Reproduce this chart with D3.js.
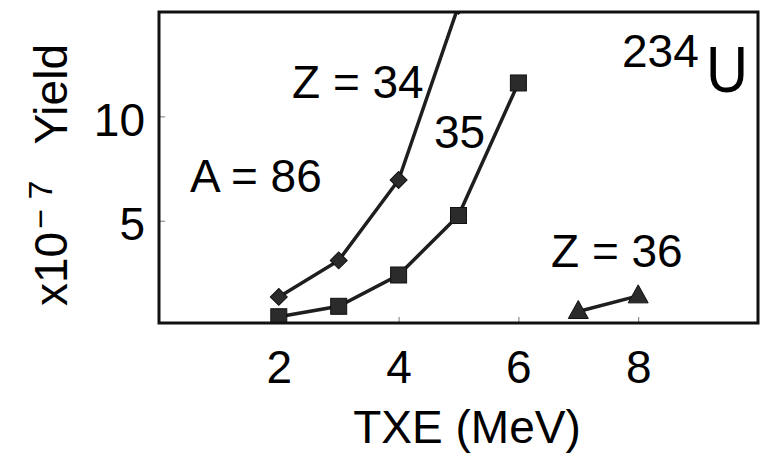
<!DOCTYPE html>
<meta charset="utf-8">
<style>
body { margin: 0; background: #fff; }
svg { display: block; }
text { font-family: "Liberation Sans", Arial, sans-serif; fill: #000; }
.line { fill: none; stroke: #1e1e1e; stroke-width: 3.5px; }
.mark { fill: #2b2b2b; stroke: #111; stroke-width: 1px; }
.axis line { stroke: #777; stroke-width: 1px; }
.axis text { font-size: 46px; }
.frame { fill: none; stroke: #111; stroke-width: 3px; }
</style>
<svg width="772" height="456"></svg>
<script src="https://cdn.jsdelivr.net/npm/d3@7"></script>
<script>
// yield x10^-7 vs TXE (MeV), A = 86, 234U
var z34 = [[2, 1.35], [3, 3.1], [4, 6.95], [5, 15.3]];
var z35 = [[2, 0.4], [3, 0.9], [4, 2.4], [5, 5.25], [6, 11.6]];
var z36 = [[7, 0.65], [8, 1.4]];
var xTicks = [2, 4, 6, 8];
var yTicks = [5, 10];

var svg = d3.select("svg");
var plotL = 159, plotR = 758, plotT = 12, plotB = 323;

var x = d3.scaleLinear().domain([0, 10]).range([plotL, plotR]);
var y = d3.scaleLinear().domain([0.1, 15]).range([plotB, plotT]);

svg.append("clipPath").attr("id", "clip")
  .append("rect")
    .attr("x", plotL).attr("y", plotT)
    .attr("width", plotR - plotL).attr("height", plotB - plotT);

var gx = svg.append("g")
    .attr("class", "axis")
    .attr("transform", "translate(0," + plotB + ")")
    .call(d3.axisBottom(x).tickValues(xTicks).tickSize(-6).tickPadding(27));
gx.select(".domain").remove();

var gy = svg.append("g")
    .attr("class", "axis")
    .attr("transform", "translate(" + plotL + ",0)")
    .call(d3.axisLeft(y).tickValues(yTicks).tickSize(-6).tickPadding(14));
gy.select(".domain").remove();
gy.selectAll("text").attr("dy", "0.41em");
svg.selectAll(".axis").attr("font-family", null).attr("font-size", null);

var line = d3.line()
    .x(function(d) { return x(d[0]); })
    .y(function(d) { return y(d[1]); });

var plot = svg.append("g").attr("clip-path", "url(#clip)");

[z34, z35, z36].forEach(function(s) {
  plot.append("path").attr("class", "line").attr("d", line(s));
});

// markers
plot.selectAll(".dia")
  .data(z34)
  .enter().append("rect")
    .attr("class", "mark")
    .attr("x", -6).attr("y", -6)
    .attr("width", 12).attr("height", 12)
    .attr("transform", function(d) { return "translate(" + x(d[0]) + "," + y(d[1]) + ") rotate(45)"; });

plot.selectAll(".sq")
  .data(z35)
  .enter().append("rect")
    .attr("class", "mark")
    .attr("x", function(d) { return x(d[0]) - 8; })
    .attr("y", function(d) { return y(d[1]) - 8; })
    .attr("width", 16).attr("height", 16);

plot.selectAll(".tri")
  .data(z36)
  .enter().append("path")
    .attr("class", "mark")
    .attr("d", "M0,-11L10,7L-10,7Z")
    .attr("transform", function(d) { return "translate(" + x(d[0]) + "," + y(d[1]) + ")"; });

svg.append("rect").attr("class", "frame")
    .attr("x", plotL).attr("y", plotT)
    .attr("width", plotR - plotL).attr("height", plotB - plotT);

// annotations
function label(tx, ty, s, size) {
  return svg.append("text").attr("x", tx).attr("y", ty)
    .attr("font-size", size || 46).text(s);
}
label(292, 98, "Z = 34");
label(434, 148, "35");
label(190, 192, "A = 86");
label(551, 267, "Z = 36");
label(622, 67, "234");
svg.append("text").attr("x", 706).attr("y", 92)
    .attr("font-size", 64).attr("textLength", 42).attr("lengthAdjust", "spacingAndGlyphs").text("U");

// axis titles
svg.append("text")
    .attr("x", 467).attr("y", 443)
    .attr("text-anchor", "middle")
    .attr("font-size", 46)
    .text("TXE (MeV)");

var yt = svg.append("text")
    .attr("transform", "translate(67,306) rotate(-90)")
    .attr("font-size", 46);
yt.append("tspan").text("x10");
yt.append("tspan").attr("font-size", 34).attr("dy", -15).attr("dx", 3).text("\u2212 7");
yt.append("tspan").attr("dy", 15).attr("dx", 36).text("Yield");
</script>
